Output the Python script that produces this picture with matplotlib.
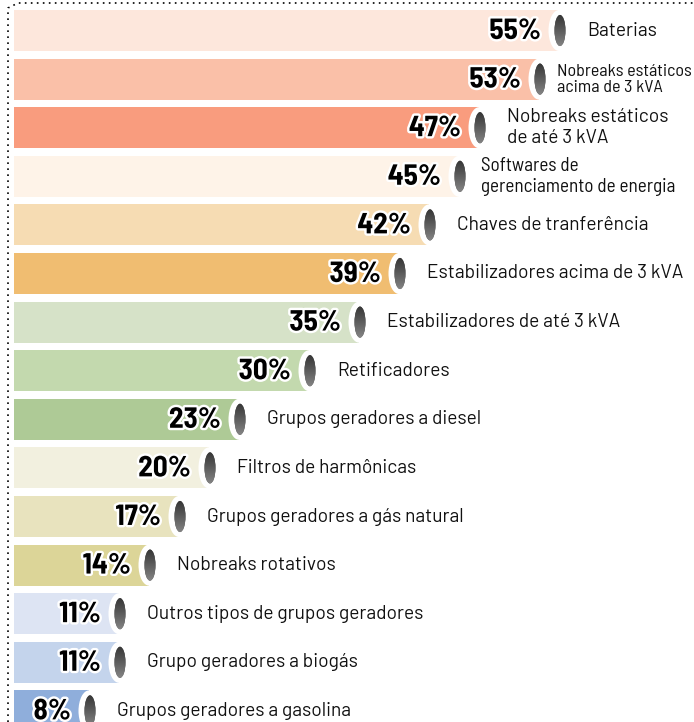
import numpy as np
import matplotlib
matplotlib.use('Agg')
import matplotlib.pyplot as plt
from matplotlib.patches import Ellipse
from matplotlib.colors import LinearSegmentedColormap
from matplotlib.lines import Line2D
import matplotlib.patheffects as pe

# data
labels = ['Baterias', 'Nobreaks estáticos\nacima de 3 kVA', 'Nobreaks estáticos\nde até 3 kVA',
          'Softwares de\ngerenciamento de energia', 'Chaves de tranferência',
          'Estabilizadores acima de 3 kVA', 'Estabilizadores de até 3 kVA', 'Retificadores',
          'Grupos geradores a diesel', 'Filtros de harmônicas', 'Grupos geradores a gás natural',
          'Nobreaks rotativos', 'Outros tipos de grupos geradores', 'Grupo geradores a biogás',
          'Grupos geradores a gasolina']
values = [55, 53, 47, 45, 42, 39, 35, 30, 23, 20, 17, 14, 11, 11, 8]
colors = ['#FDE7DC', '#FAC0A8', '#F99C7E', '#FEF3E8', '#F6DCB3', '#F0BD71',
          '#D6E2C8', '#C3D9AE', '#AECA96', '#F2F0DF', '#E8E3BE', '#DCD598',
          '#DDE4F3', '#C4D4EC', '#8FAEDB']

pct_font = ['Barlow Semi Condensed', 'Asap Condensed', 'DejaVu Sans']
lab_font = ['Barlow', 'Open Sans', 'DejaVu Sans']
semi_font = ['Barlow Semi Condensed', 'Barlow', 'DejaVu Sans']

fig = plt.figure(figsize=(6.94, 7.22), dpi=100)
ax = fig.add_axes([14/694, 0, 680/694, 1])

cap = LinearSegmentedColormap.from_list('cap', ['#333333', '#858585'])
grad = np.linspace(0, 1, 60).reshape(-1, 1)

for i, (lab, v, c) in enumerate(zip(labels, values, colors)):
    end = v - 0.5
    ax.barh(i, end, height=0.845, left=0, color=c, zorder=1)
    ax.add_patch(Ellipse((end, i), 2.1, 0.845, facecolor='white', edgecolor='none', zorder=2))
    dark = Ellipse((end + 0.1, i), 1.1, 0.64, facecolor='#555555', edgecolor='none', zorder=3)
    ax.add_patch(dark)
    im = ax.imshow(grad, cmap=cap, extent=(end - 0.5, end + 0.7, i + 0.33, i - 0.33),
                   origin='upper', aspect='auto', interpolation='bilinear', zorder=4)
    im.set_clip_path(dark)
    ax.text(end - 1.8, i + 0.02, f'{v}%', ha='right', va='center', fontsize=21,
            fontweight='bold', family=pct_font, color='black',
            path_effects=[pe.withStroke(linewidth=3.5, foreground='white')], zorder=5)
    if v == 53:
        ax.text(end + 1.8, i, lab, ha='left', va='center', fontsize=13,
                family=semi_font, color='#111111', linespacing=1.1, zorder=5)
    elif v == 45:
        ax.text(end + 2.2, i, lab, ha='left', va='center', fontsize=13.8,
                family=semi_font, color='#111111', linespacing=1.2, zorder=5)
    else:
        ax.text(end + 2.8, i, lab, ha='left', va='center', fontsize=13.8,
                family=lab_font, color='#111111', linespacing=1.2, zorder=5)

ax.set_xlim(0, 68)
ax.set_ylim((722 - 30.5) / 48.6, -30.5 / 48.6)
ax.axis('off')

# dotted frame on left and top
fig.add_artist(Line2D([8/694, 8/694, 18/694, 1], [0, 1 - 8/722, 1 - 3/722, 1 - 3/722],
                      color='black', linewidth=1.2, linestyle=(0, (1, 2.6)),
                      transform=fig.transFigure))

fig.savefig('out.png', dpi=100)
